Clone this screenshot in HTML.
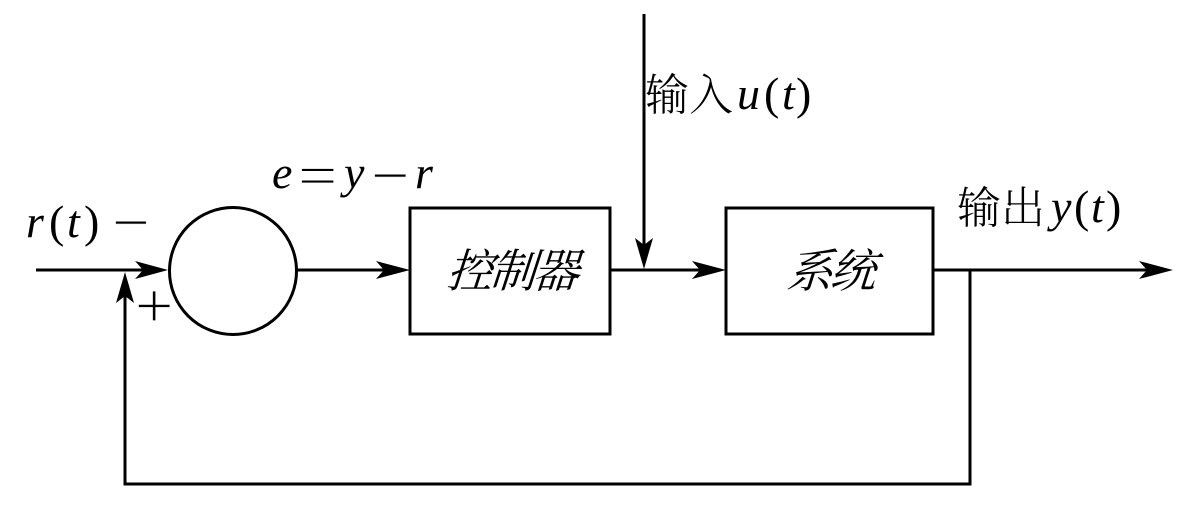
<!DOCTYPE html>
<html><head><meta charset="utf-8">
<style>html,body{margin:0;padding:0;background:#fff}svg{display:block}
text{fill:#000}
.m{font-family:"Liberation Serif","Noto Serif CJK SC",serif;font-style:italic;font-size:46px}
.r{font-family:"Liberation Serif",serif;font-size:46px}
.o{font-family:"Liberation Serif",serif;font-size:58px;stroke:#fff;stroke-width:.7px}
.c{font-family:"Noto Serif CJK SC",serif;font-size:44px;font-weight:300}
.i{font-family:"Noto Serif CJK SC",serif;font-size:46px;font-weight:400;letter-spacing:-3px}
</style></head><body>
<svg width="1188" height="507" viewBox="0 0 1188 507" xmlns="http://www.w3.org/2000/svg">
<g fill="none" stroke="#000" stroke-width="3">
<circle cx="233" cy="271" r="63.5"/>
<rect x="410" y="208" width="200" height="126"/>
<rect x="726" y="208" width="207" height="126"/>
<path d="M36 270H150M297 270H392M611 270H708M934 270H1155M644 14V250M970 270V484H125V290"/>
</g>
<g fill="#000">
<path d="M168 270L135 261L143 270L135 279Z"/>
<path d="M410 270L376 261L384 270L376 279Z"/>
<path d="M726 270L692 261L700 270L692 279Z"/>
<path d="M1173 270L1139 261L1147 270L1139 279Z"/>
<path d="M644 269L635 238L644 245L653 238Z"/>
<path d="M125 272L116 303L125 296L134 303Z"/>
</g>
<text class="m" x="26" y="237">r</text><text class="r" x="49" y="237">(</text><text class="m" x="67" y="237">t</text><text class="r" x="84" y="237">)</text>
<text class="o" transform="translate(112,242) scale(1.15,1)" x="0" y="0">−</text><text class="o" transform="translate(135,327) scale(1.17,1.1)" x="0" y="0">+</text>
<text class="m" x="272" y="188">e</text><text class="o" transform="translate(298,195) scale(1.2,1)" x="0" y="0">=</text><text class="m" x="344" y="188">y</text><text class="o" transform="translate(371,195) scale(1.17,1)" x="0" y="0">−</text><text class="m" x="415" y="188">r</text>
<text class="c" x="645" y="110">输入</text><text class="m" x="737" y="109">u</text><text class="r" x="764" y="109">(</text><text class="m" x="782" y="109">t</text><text class="r" x="796" y="109">)</text>
<text class="c" x="957" y="223">输出</text><text class="m" x="1051" y="222">y</text><text class="r" x="1074" y="222">(</text><text class="m" x="1091" y="222">t</text><text class="r" x="1106" y="222">)</text>
<text class="i" transform="translate(446,287) skewX(-18)">控制器</text>
<text class="i" transform="translate(786,287) skewX(-18)">系统</text>
</svg>
</body></html>
